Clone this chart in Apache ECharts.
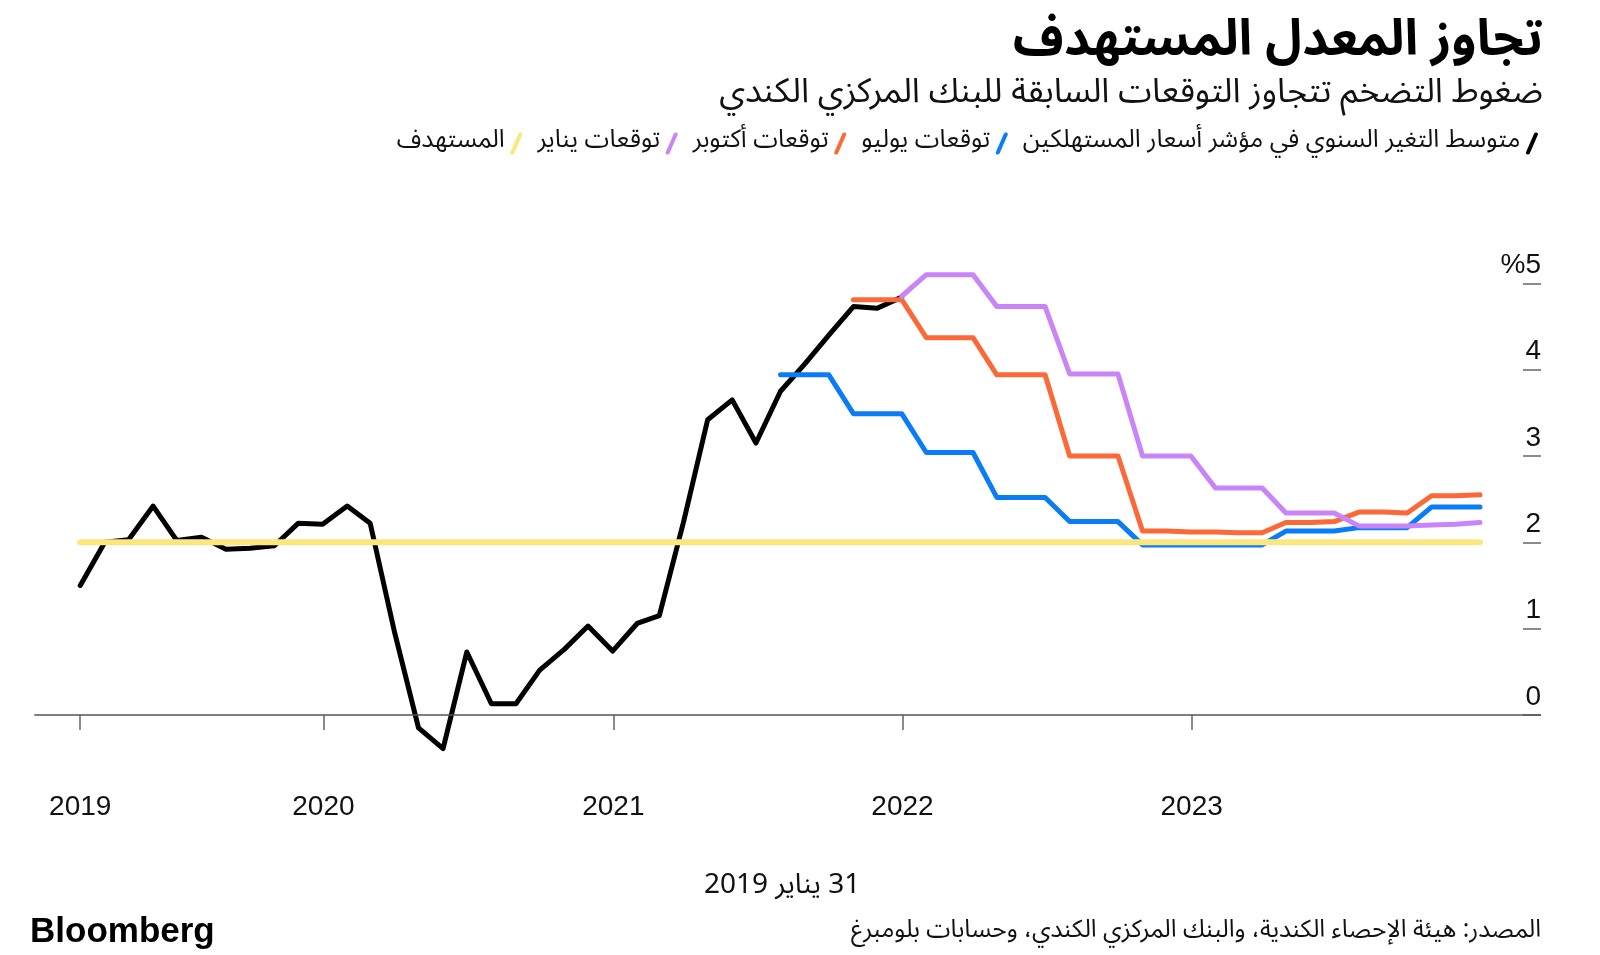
<!DOCTYPE html>
<html>
<head>
<meta charset="utf-8">
<script src="https://cdn.jsdelivr.net/npm/echarts@6/dist/echarts.min.js"></script>
<style>
html,body{margin:0;padding:0;background:#fff;}
#chart{width:1600px;height:955px;}
</style>
</head>
<body>
<div id="chart" dir="rtl"></div>
<script>
// ---------- data ----------
const monthEnds = [
  '2019-02-28','2019-03-31','2019-04-30','2019-05-31','2019-06-30','2019-07-31','2019-08-31','2019-09-30','2019-10-31','2019-11-30','2019-12-31',
  '2020-01-31','2020-02-29','2020-03-31','2020-04-30','2020-05-31','2020-06-30','2020-07-31','2020-08-31','2020-09-30','2020-10-31','2020-11-30','2020-12-31',
  '2021-01-31','2021-02-28','2021-03-31','2021-04-30','2021-05-31','2021-06-30','2021-07-31','2021-08-31','2021-09-30','2021-10-31','2021-11-30','2021-12-31',
  '2022-01-31','2022-02-28','2022-03-31','2022-04-30','2022-05-31','2022-06-30','2022-07-31','2022-08-31','2022-09-30','2022-10-31','2022-11-30','2022-12-31',
  '2023-01-31','2023-02-28','2023-03-31','2023-04-30','2023-05-31','2023-06-30','2023-07-31','2023-08-31','2023-09-30','2023-10-31','2023-11-30','2023-12-31'
];

// CPI y/y, Feb 2019 – Dec 2021
const cpiStart = '2019-02-28';
const cpiValues = [1.5, 2.0, 2.03, 2.42, 2.02, 2.06, 1.92, 1.93, 1.96, 2.22, 2.21,
  2.42, 2.22, 0.95, -0.15, -0.39, 0.73, 0.13, 0.13, 0.52, 0.76, 1.03, 0.74,
  1.06, 1.15, 2.25, 3.42, 3.65, 3.15, 3.75, 4.07, 4.4, 4.73, 4.71, 4.84];

// July 2021 forecast
const julyStart = '2021-07-31';
const julyValues = [3.94, 3.94, 3.94, 3.49, 3.49, 3.49,
  3.04, 3.04, 3.04, 2.52, 2.52, 2.52, 2.24, 2.24, 2.24, 1.97, 1.97, 1.97,
  1.97, 1.97, 1.97, 2.13, 2.13, 2.13, 2.17, 2.17, 2.17, 2.41, 2.41, 2.41];

// October 2021 forecast
const octStart = '2021-10-31';
const octValues = [4.81, 4.81, 4.81,
  4.37, 4.37, 4.37, 3.94, 3.94, 3.94, 3.0, 3.0, 3.0, 2.13, 2.13, 2.12,
  2.12, 2.11, 2.11, 2.23, 2.23, 2.24, 2.35, 2.35, 2.34, 2.54, 2.54, 2.55];

// January 2022 forecast
const janStart = '2021-12-31';
const janValues = [4.85,
  5.1, 5.1, 5.1, 4.73, 4.73, 4.73, 3.95, 3.95, 3.95, 3.0, 3.0, 3.0,
  2.63, 2.63, 2.63, 2.34, 2.34, 2.34, 2.19, 2.19, 2.19, 2.2, 2.21, 2.23];

// Target
const targetDates = ['2019-02-28', '2023-12-31'];
const targetValues = [2, 2];

const xRange = ['2019-01-01', '2024-03-17'];
const yearTickDates = ['2019-02-28', '2020-01-01', '2021-01-01', '2022-01-01', '2023-01-01'];
const yearTickLabels = ['2019', '2020', '2021', '2022', '2023'];
const yTickValues = [0, 1, 2, 3, 4, 5];

const names = {
  cpi: 'متوسط التغير السنوي في مؤشر أسعار المستهلكين',
  july: 'توقعات يوليو',
  oct: 'توقعات أكتوبر',
  jan: 'توقعات يناير',
  target: 'المستهدف'
};
const colors = { cpi: '#000000', july: '#0a7cf6', oct: '#fb6938', jan: '#c985f7', target: '#fbe77e' };

// ---------- helpers ----------
function ts(s) { const p = s.split('-').map(Number); return new Date(p[0], p[1] - 1, p[2]).getTime(); }
function seriesFrom(start, values) {
  const i0 = monthEnds.indexOf(start);
  return values.map((v, i) => [ts(monthEnds[i0 + i]), v]);
}
const tickTs = yearTickDates.map(ts);

const AR = "'Noto Sans Arabic','Noto Naskh Arabic','DejaVu Sans',sans-serif";
const LAT = "'Liberation Sans',Arial,Helvetica,sans-serif";

function line(key, data, width, z) {
  return {
    name: names[key], type: 'line', data: data, color: colors[key],
    showSymbol: false, symbol: 'none', z: z, silent: true, clip: false,
    lineStyle: { color: colors[key], width: width, cap: 'round', join: 'round' }
  };
}

const chart = echarts.init(document.getElementById('chart'), null, { renderer: 'canvas' });

const series = [
  line('cpi', seriesFrom(cpiStart, cpiValues), 5, 3),
  line('july', seriesFrom(julyStart, julyValues), 5, 4),
  line('oct', seriesFrom(octStart, octValues), 5, 5),
  line('jan', seriesFrom(janStart, janValues), 5, 6),
  line('target', targetDates.map((d, i) => [ts(d), targetValues[i]]), 6, 7)
];
series[0].markLine = {
  silent: true, symbol: 'none', label: { show: false },
  lineStyle: { color: '#555', width: 1.5, type: 'solid' },
  data: [{ yAxis: 0 }]
};

const slash = 'path://M10.5,0.5 C11.6,0.5 12.3,1.6 11.9,2.6 L4.6,19.3 C4.2,20.2 3.4,20.5 2.5,20.5 C1.4,20.5 0.7,19.4 1.1,18.4 L8.4,1.7 C8.8,0.8 9.6,0.5 10.5,0.5 Z';

chart.setOption({
  animation: false,
  backgroundColor: '#ffffff',
  textStyle: { fontFamily: AR },
  grid: { left: 34.3, right: 59, top: 283.3, bottom: 200.3, outerBoundsMode: 'none', containLabel: false },
  legend: {
    data: [names.target, names.jan, names.oct, names.july, names.cpi],
    right: 57, top: 126, align: 'right', icon: slash,
    itemWidth: 13, itemHeight: 22, itemGap: 15, selectedMode: false,
    textStyle: { fontSize: 25, color: '#111', fontFamily: AR }
  },
  xAxis: {
    type: 'value',
    min: ts(xRange[0]), max: ts(xRange[1]),
    axisLine: { show: false },
    splitLine: { show: false },
    axisTick: { show: true, customValues: tickTs, length: 15, lineStyle: { color: '#666', width: 1.5 } },
    axisLabel: {
      customValues: tickTs, margin: 39, fontSize: 28, color: '#111', fontFamily: LAT,
      formatter: function (val) {
        for (let i = 0; i < tickTs.length; i++) { if (Math.abs(tickTs[i] - val) < 86400000) return yearTickLabels[i]; }
        return '';
      }
    }
  },
  yAxis: {
    type: 'value', position: 'right', min: -0.46, max: 5,
    axisLine: { show: false },
    splitLine: { show: false },
    axisTick: { show: true, inside: true, length: 18, customValues: yTickValues, lineStyle: { color: '#666', width: 1.5 } },
    axisLabel: {
      inside: true, margin: 0, customValues: yTickValues, fontSize: 28, color: '#111', fontFamily: LAT,
      verticalAlign: 'bottom', padding: [0, 0, 4, 0],
      formatter: function (v) { return v === 5 ? '%5' : String(v); }
    }
  },
  graphic: [
    { type: 'text', right: 57, top: 22, style: { text: 'تجاوز المعدل المستهدف', font: "bold 50px " + AR, fill: '#000' } },
    { type: 'text', right: 57, top: 80, style: { text: 'ضغوط التضخم تتجاوز التوقعات السابقة للبنك المركزي الكندي', font: "34px " + AR, fill: '#111' } },
    { type: 'text', left: 704, top: 875, style: { text: '31 يناير 2019', font: "28px " + AR, fill: '#111' } },
    { type: 'text', left: 30, top: 915, style: { text: 'Bloomberg', font: "bold 35px " + LAT, fill: '#000' } },
    { type: 'text', right: 59, top: 921, style: { text: 'المصدر: هيئة الإحصاء الكندية، والبنك المركزي الكندي، وحسابات بلومبرغ', font: "24.5px " + AR, fill: '#111' } }
  ],
  series: series
});
</script>
</body>
</html>
